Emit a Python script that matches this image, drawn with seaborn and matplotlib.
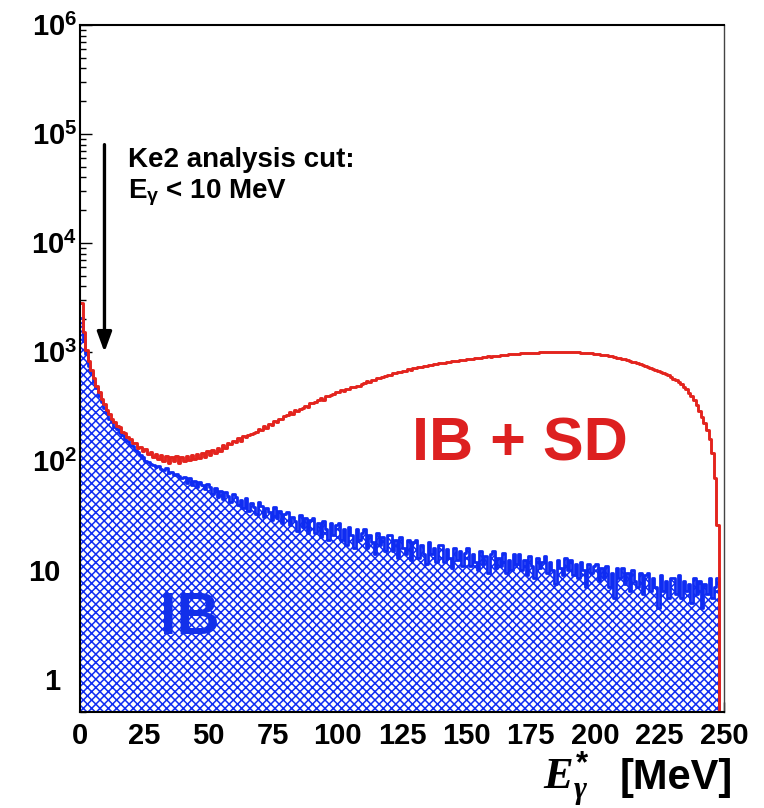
import numpy as np
import pandas as pd
import matplotlib
matplotlib.use("Agg")
import matplotlib.pyplot as plt
import matplotlib.transforms as mtransforms
import seaborn as sns

# ---------------- data (1 MeV bins, 0..250 MeV) ----------------
bin_edges = np.arange(0, 251, 1)

ib_counts = [
    2050, 1280, 960, 750, 645, 530, 468, 395, 352, 305,
    278, 246, 231, 207, 198, 181, 175, 158, 154, 141,
    139, 126, 121, 114, 108, 101, 99, 95, 92, 88,
    91, 84, 83, 86, 78, 80, 74, 77, 73, 70,
    72, 63, 70, 61, 66, 58, 65, 60, 55, 62,
    58, 50, 57, 47, 53, 45, 52, 48, 42, 50,
    47, 40, 44, 37, 46, 35, 41, 38, 33, 42,
    39, 31, 37, 34, 29, 38, 30, 35, 27, 33,
    34, 26, 31, 28, 23, 32, 25, 30, 22, 29,
    30, 22, 27, 20, 28, 24, 19, 27, 21, 26,
    27, 19, 24, 17, 25, 21, 16, 24, 19, 22,
    24, 16, 21, 18, 14, 22, 17, 20, 15, 21,
    21, 15, 19, 13, 20, 16, 14, 19, 12.5, 18,
    19, 13, 17, 14, 11.5, 18, 14, 16, 12, 17,
    17, 12, 15.5, 13, 10.5, 16, 12.5, 15, 11, 14.5,
    16, 11, 14, 12, 10, 15, 11.5, 13.5, 9.5, 14,
    15, 10.5, 13, 11, 14.5, 9.5, 12.5, 10, 14, 11.5,
    14, 10, 12.5, 9, 13.5, 11, 8.5, 13, 10.5, 12,
    13.5, 9.5, 12, 10, 7.5, 12.5, 10.5, 9, 13, 10,
    12.5, 9, 11.5, 8.5, 12, 10, 7, 11.5, 9.5, 11,
    11.5, 8, 10.5, 8.5, 11, 7, 9.5, 5.5, 10.5, 8.5,
    10.5, 7.5, 9.5, 6.5, 10, 8, 7, 9.5, 6, 9,
    9.5, 6.5, 8.5, 7, 4.5, 9, 6.5, 8, 5.5, 8.5,
    8.5, 6, 9, 5.5, 8, 6.5, 7.5, 5, 8.5, 6,
    8, 4.5, 7.5, 6, 8.5, 5.5, 7, 8.5, 0, 0,
]

ibsd_counts = [
    2800, 1520, 1040, 830, 685, 585, 488, 428, 368, 334,
    292, 271, 243, 231, 211, 205, 186, 181, 165, 160,
    146, 147, 133, 136, 124, 130, 116, 121, 110, 116,
    104, 114, 100, 112, 97, 109, 101, 111, 96, 108,
    100, 111, 103, 113, 104, 117, 107, 119, 110, 123,
    113, 127, 119, 133, 125, 140, 131, 147, 145, 152,
    150, 163, 154, 170, 166, 172, 176, 183, 186, 198,
    194, 209, 200, 220, 216, 232, 230, 244, 243, 262,
    263, 281, 270, 294, 291, 299, 308, 323, 312, 340,
    345, 352, 362, 378, 366, 397, 392, 404, 412, 430,
    428, 450, 436, 463, 460, 476, 477, 486, 491, 508,
    520, 545, 530, 558, 552, 580, 576, 595, 598, 618,
    620, 638, 642, 652, 656, 676, 676, 694, 690, 710,
    712, 726, 727, 740, 744, 756, 757, 771, 770, 788,
    795, 802, 808, 815, 822, 830, 835, 842, 850, 852,
    860, 872, 868, 880, 888, 892, 898, 902, 912, 910,
    920, 928, 930, 940, 938, 948, 952, 955, 962, 965,
    968, 972, 975, 982, 978, 986, 990, 988, 995, 998,
    996, 1002, 1005, 998, 1008, 1004, 1010, 1002, 1006, 1000,
    1004, 998, 996, 1000, 990, 988, 982, 980, 972, 970,
    962, 958, 950, 940, 932, 925, 912, 905, 892, 880,
    868, 858, 846, 832, 820, 805, 792, 778, 762, 748,
    735, 720, 705, 690, 676, 660, 645, 628, 612, 595,
    572, 552, 530, 508, 482, 455, 425, 395, 362, 325,
    288, 255, 225, 195, 160, 118, 70, 26, 0, 0,
]

x_ticks = [0, 25, 50, 75, 100, 125, 150, 175, 200, 225, 250]
y_ticks = [1, 10, 1e2, 1e3, 1e4, 1e5, 1e6]
y_tick_labels = ["1", "10", "$10^{2}$", "$10^{3}$", "$10^{4}$", "$10^{5}$", "$10^{6}$"]

cut_energy = 9.5
arrow_top, arrow_bottom = 8e4, 1000

# ---------------- style ----------------
sns.set_style("ticks")
plt.rcParams["font.family"] = ["Liberation Sans", "DejaVu Sans"]
plt.rcParams["font.weight"] = "bold"
plt.rcParams["text.color"] = "black"
plt.rcParams["xtick.color"] = "black"
plt.rcParams["ytick.color"] = "black"
plt.rcParams["axes.labelcolor"] = "black"
plt.rcParams["mathtext.fontset"] = "custom"
plt.rcParams["mathtext.rm"] = "Liberation Sans:bold"
plt.rcParams["mathtext.bf"] = "Liberation Sans:bold"
plt.rcParams["mathtext.it"] = "Liberation Serif:italic"
plt.rcParams["hatch.linewidth"] = 1.1

BLUE = "#0f2cf2"
RED = "#e3241e"

df = pd.DataFrame({
    "E": (bin_edges[:-1] + 0.5).astype(float),
    "IB": np.asarray(ib_counts, dtype=float),
    "IBSD": np.asarray(ibsd_counts, dtype=float),
})

fig = plt.figure(figsize=(7.64, 8.08), dpi=100)
fig.patch.set_facecolor("white")
ax = fig.add_axes([0.1047, 0.1188, 0.8429, 0.8502])

hist_kw = dict(binwidth=1, binrange=(0, 250), element="step", ax=ax)

# hatched IB fill
sns.histplot(data=df, x="E", weights="IB", fill=True, color=BLUE, alpha=1,
             linewidth=0, **hist_kw)
poly = ax.collections[-1]
poly.set_facecolor("white")
poly.set_edgecolor(BLUE)
poly.set_hatch("xxxx")
poly.set_linewidth(0)

# IB outline
sns.histplot(data=df, x="E", weights="IB", fill=False, color=BLUE,
             linewidth=2.0, **hist_kw)
# IB + SD outline
sns.histplot(data=df, x="E", weights="IBSD", fill=False, color=RED,
             linewidth=2.1, **hist_kw)

ax.set_yscale("log", nonpositive="clip")
ax.set_xlim(0, 250)
ax.set_ylim(0.5, 1e6)
ax.set_xlabel("")
ax.set_ylabel("")

ax.set_xticks(x_ticks)
ax.set_xticklabels([str(t) for t in x_ticks], fontsize=21, fontweight="bold")
ax.set_xticks(np.arange(0, 251, 5), minor=True)
ax.set_yticks(y_ticks)
ax.set_yticklabels(y_tick_labels, fontsize=21, fontweight="bold")
ax.yaxis.set_minor_locator(matplotlib.ticker.LogLocator(base=10, subs=np.arange(2, 10)))
ax.yaxis.set_minor_formatter(matplotlib.ticker.NullFormatter())

ax.tick_params(axis="x", which="major", direction="in", length=7, width=1, pad=7, top=False)
ax.tick_params(axis="x", which="minor", direction="in", length=3.5, width=1, top=False)
ax.tick_params(axis="y", which="major", direction="in", length=8.5, width=1, pad=2, right=False)
ax.tick_params(axis="y", which="minor", direction="in", length=4.5, width=1, right=False)

# plain labels "1" and "10" sit left, aligned with the "10" of the power labels
shift = mtransforms.ScaledTranslation(-17 / 100, 0, fig.dpi_scale_trans)
for lbl in ax.get_yticklabels()[:2]:
    lbl.set_transform(lbl.get_transform() + shift)

for side in ["left", "bottom", "top", "right"]:
    ax.spines[side].set_visible(True)
    ax.spines[side].set_color("black")
    ax.spines[side].set_linewidth(1.5)
ax.spines["right"].set_color("#444444")
ax.spines["right"].set_linewidth(1.0)

# arrow for the analysis cut
ax.annotate("", xy=(cut_energy, arrow_bottom), xytext=(cut_energy, arrow_top),
            arrowprops=dict(arrowstyle="-|>,head_length=0.6,head_width=0.22",
                            color="black", lw=2.4, mutation_scale=20,
                            shrinkA=0, shrinkB=0))

fig.text(0.1675, 0.7933, "Ke2 analysis cut:", fontsize=20, fontweight="bold",
         ha="left", va="baseline")
fig.text(0.1675, 0.755, r"E$_{\mathregular{γ}}$ < 10 MeV", fontsize=20,
         fontweight="bold", ha="left", va="baseline")

fig.text(0.6806, 0.449, "IB + SD", fontsize=44, fontweight="bold", color="#dd2020",
         ha="center", va="center")
fig.text(0.2487, 0.235, "IB", fontsize=43, fontweight="bold", color="#1230ea",
         ha="center", va="center")

fig.text(0.7107, 0.024, r"$E_{\gamma}^{*}$", fontsize=32,
         ha="left", va="baseline")
fig.text(0.9594, 0.024, "[MeV]", fontsize=30, fontweight="bold",
         ha="right", va="baseline")

fig.savefig("out.png", dpi=100, facecolor="white")
